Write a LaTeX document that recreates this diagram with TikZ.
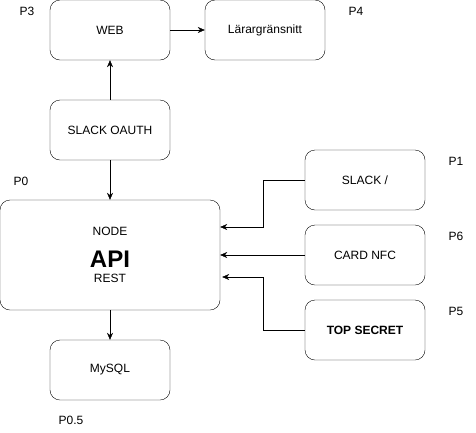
\documentclass[tikz,border=0pt]{standalone}
\usepackage{fontspec}
\setmainfont{Liberation Sans}
\usetikzlibrary{arrows.meta}
\usetikzlibrary{positioning}

\tikzset{
  box/.style={draw, thin, rounded corners=10pt, minimum width=120pt, minimum height=60pt,
    inner sep=0pt, align=center, font=\fontsize{12}{14}\selectfont},
  arr/.style={thin, -{Stealth[length=7pt,width=6pt]}},
  plabel/.style={font=\fontsize{12}{14}\selectfont, inner sep=0pt}
}

\begin{document}
\begin{tikzpicture}[x=1pt,y=-1pt]
  \useasboundingbox (0,0) rectangle (476,432);

  % Boxes
  \node[box] (web) at (110,30) {WEB};
  \node[box] (lar) at (265,30) {Lärargränsnitt};
  \node[box] (oauth) at (110,130) {SLACK OAUTH};
  \node[box, minimum width=220pt, minimum height=110pt] (api) at (110,255)
    {NODE\\[15pt]{\fontsize{24}{26}\selectfont\bfseries API}\\[1pt]REST};
  \node[box] (mysql) at (110,370) {MySQL};
  \node[box] (slack) at (365,180) {SLACK /};
  \node[box] (card) at (365,255) {CARD NFC};
  \node[box] (secret) at (365,330) {\bfseries TOP SECRET};

  % Labels
  \node[plabel] (p3) at (27,11) {P3};
  \node[plabel] (p4) at (356,11) {P4};
  \node[plabel] (p0) at (21,181) {P0};
  \node[plabel] (p1) at (456,161) {P1};
  \node[plabel] (p6) at (456,236) {P6};
  \node[plabel] (p5) at (456,311) {P5};
  \node[plabel] (p05) at (71,420) {P0.5};

  % Connectors
  \draw[arr] (web) -- (lar);
  \draw[arr] (oauth) -- (web);
  \draw[arr] (oauth) -- (api);
  \draw[arr] (api) -- (mysql);
  \draw[arr] (slack.west) -- ++(-42,0) |- ([yshift=28pt]api.east);
  \draw[arr] (card) -- (api);
  \draw[arr] (secret.west) -- ++(-42,0) |- ([yshift=-22pt,xshift=2pt]api.east);
\end{tikzpicture}
\end{document}
